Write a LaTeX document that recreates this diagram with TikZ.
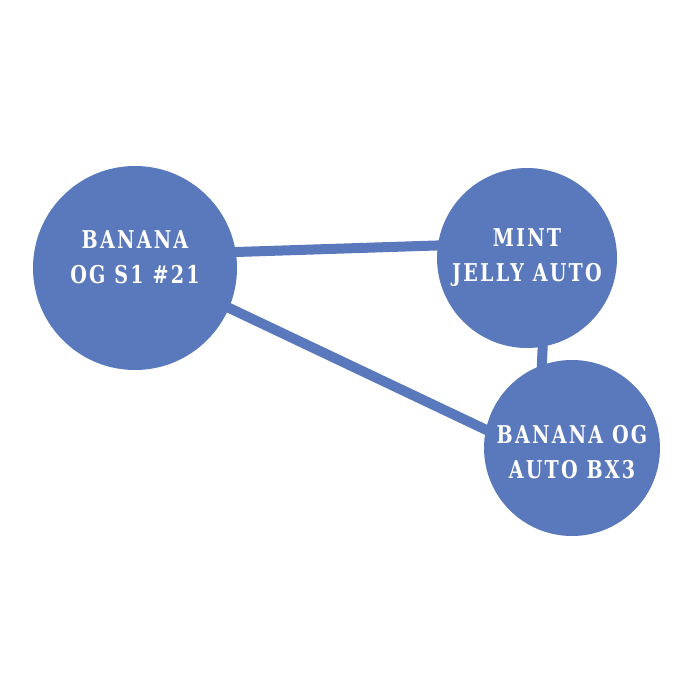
\documentclass[tikz,border=0pt]{standalone}
\usepackage{fontspec}
\newfontfamily\lblfont{DejaVu Serif}[UprightFont=* Bold, FakeStretch=0.78, LetterSpace=9]
\usetikzlibrary{backgrounds}
\definecolor{nodeblue}{RGB}{90,120,188}
\tikzset{
  blob/.style={circle, fill=nodeblue, draw=none, inner sep=0pt, minimum size=#1},
  link/.style={draw=nodeblue, line width=10pt, shorten <=-4pt, shorten >=-4pt},
  lbl/.style={text=white, font=\lblfont\fontsize{24.5}{35}\selectfont, align=center, inner sep=0pt}
}
\begin{document}
\begin{tikzpicture}[x=1pt,y=-1pt]
\useasboundingbox (0,0) rectangle (700,700);
\node[blob=204pt] (A) at (135,268) {};
\node[blob=180pt] (B) at (527,258) {};
\node[blob=176pt] (C) at (572,448) {};
\node[lbl] (tA) at (135,257) {BANANA\\OG S1 \#21};
\node[lbl] (tB) at (527,258) {MINT\\JELLY AUTO};
\node[lbl] (tC) at (572,452) {BANANA OG\\AUTO BX3};
\begin{pgfonlayer}{background}
\draw[link] (A.9) -- (B.172);
\draw[link] (A.-23) -- (C.168);
\draw[link] (B.-80) -- (C.110);
\end{pgfonlayer}
\end{tikzpicture}
\end{document}
